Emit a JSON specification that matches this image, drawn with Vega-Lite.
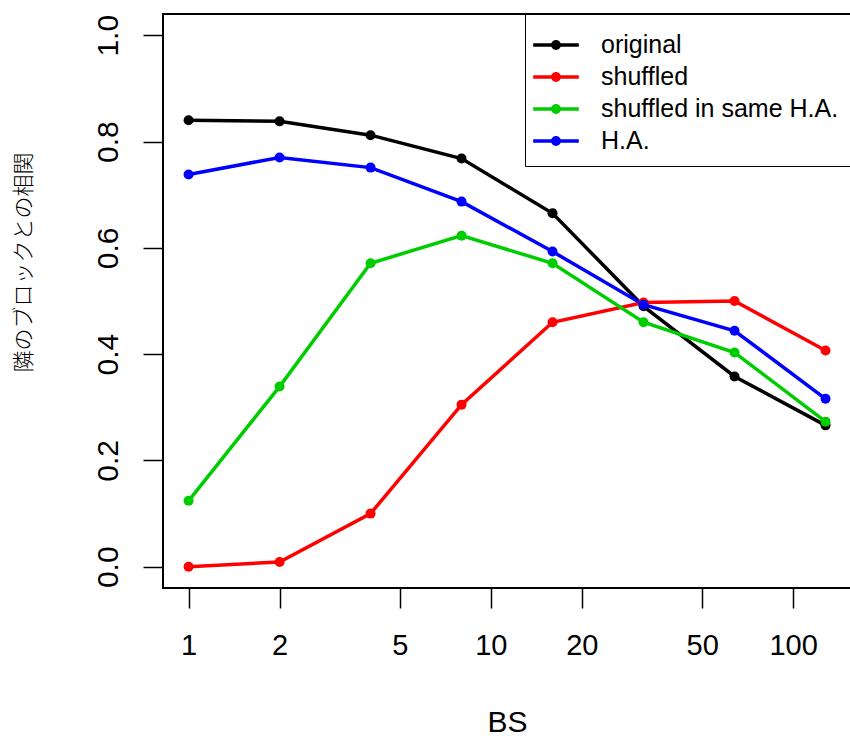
{
  "$schema": "https://vega.github.io/schema/vega-lite/v6.json",
  "width": 688,
  "height": 574,
  "autosize": {"type": "none"},
  "padding": {"left": 163, "top": 14, "right": 0, "bottom": 148},
  "background": "white",
  "config": {
    "view": {"stroke": "black", "strokeWidth": 2},
    "font": "Liberation Sans",
    "axis": {"grid": false, "domain": false, "tickColor": "black", "tickWidth": 1.5, "tickSize": 20, "labelColor": "black", "labelFont": "Liberation Sans", "labelFontSize": 29, "titleColor": "black", "titleFontWeight": "normal"}
  },
  "data": {
    "values": [
      {"BS": 1, "series": "original", "r": 0.840},
      {"BS": 2, "series": "original", "r": 0.838},
      {"BS": 4, "series": "original", "r": 0.812},
      {"BS": 8, "series": "original", "r": 0.768},
      {"BS": 16, "series": "original", "r": 0.665},
      {"BS": 32, "series": "original", "r": 0.490},
      {"BS": 64, "series": "original", "r": 0.358},
      {"BS": 128, "series": "original", "r": 0.266},
      {"BS": 1, "series": "shuffled", "r": 0.0},
      {"BS": 2, "series": "shuffled", "r": 0.009},
      {"BS": 4, "series": "shuffled", "r": 0.100},
      {"BS": 8, "series": "shuffled", "r": 0.305},
      {"BS": 16, "series": "shuffled", "r": 0.460},
      {"BS": 32, "series": "shuffled", "r": 0.497},
      {"BS": 64, "series": "shuffled", "r": 0.500},
      {"BS": 128, "series": "shuffled", "r": 0.407},
      {"BS": 1, "series": "shuffled in same H.A.", "r": 0.124},
      {"BS": 2, "series": "shuffled in same H.A.", "r": 0.339},
      {"BS": 4, "series": "shuffled in same H.A.", "r": 0.571},
      {"BS": 8, "series": "shuffled in same H.A.", "r": 0.623},
      {"BS": 16, "series": "shuffled in same H.A.", "r": 0.571},
      {"BS": 32, "series": "shuffled in same H.A.", "r": 0.460},
      {"BS": 64, "series": "shuffled in same H.A.", "r": 0.403},
      {"BS": 128, "series": "shuffled in same H.A.", "r": 0.273},
      {"BS": 1, "series": "H.A.", "r": 0.738},
      {"BS": 2, "series": "H.A.", "r": 0.770},
      {"BS": 4, "series": "H.A.", "r": 0.751},
      {"BS": 8, "series": "H.A.", "r": 0.687},
      {"BS": 16, "series": "H.A.", "r": 0.593},
      {"BS": 32, "series": "H.A.", "r": 0.493},
      {"BS": 64, "series": "H.A.", "r": 0.444},
      {"BS": 128, "series": "H.A.", "r": 0.316}
    ]
  },
  "encoding": {
    "x": {
      "field": "BS", "type": "quantitative",
      "scale": {"type": "log", "domain": [0.823, 155.4], "nice": false, "zero": false},
      "axis": {"values": [1, 2, 5, 10, 20, 50, 100], "format": "d", "labelBaseline": "top", "labelPadding": 23, "labelFlush": false, "labelOverlap": false, "title": "BS", "titleFontSize": 30, "titleFont": "Liberation Sans", "titleX": 344, "titleY": 143, "titleBaseline": "alphabetic", "titleAlign": "center"}
    },
    "y": {
      "field": "r", "type": "quantitative",
      "scale": {"domain": [-0.04, 1.04], "nice": false, "zero": false},
      "axis": {"values": [0, 0.2, 0.4, 0.6, 0.8, 1.0], "format": ".1f", "labelAngle": -90, "labelAlign": "center", "labelBaseline": "alphabetic", "labelPadding": 26, "labelFontSize": 30, "labelFlush": false, "labelOverlap": false, "title": "隣のブロックとの相関", "titleFont": "Noto Sans CJK JP", "titleFontSize": 22, "titleFontWeight": 300, "titleAngle": -90, "titleX": -140, "titleY": 248, "titleAlign": "center", "titleBaseline": "middle"}
    }
  },
  "layer": [
    {
      "mark": {"type": "line", "strokeWidth": 3.5},
      "encoding": {"color": {"field": "series", "type": "nominal", "legend": null, "scale": {"domain": ["original", "shuffled", "shuffled in same H.A.", "H.A."], "range": ["#000000", "#FF0000", "#00CD00", "#0000FF"]}}}
    },
    {
      "mark": {"type": "point", "filled": true, "size": 100, "opacity": 1},
      "encoding": {
        "color": {
          "field": "series", "type": "nominal",
          "scale": {"domain": ["original", "shuffled", "shuffled in same H.A.", "H.A."], "range": ["#000000", "#FF0000", "#00CD00", "#0000FF"]},
          "legend": {
            "title": null, "orient": "top-right", "offset": 0, "padding": 12,
            "strokeColor": "black", "fillColor": "white",
            "symbolType": "M-1.2,-0.092H1.2V0.092H-1.2Z M-0.26,0A0.26,0.26 0 1,1 0.26,0A0.26,0.26 0 1,1 -0.26,0Z",
            "symbolSize": 1444, "symbolStrokeWidth": 0, "symbolOpacity": 1,
            "labelFont": "Liberation Sans", "labelFontSize": 25, "labelColor": "black", "labelOffset": 26,
            "labelLimit": 400, "rowPadding": 0
          }
        }
      }
    }
  ],
  "resolve": {"legend": {"color": "independent"}}
}
